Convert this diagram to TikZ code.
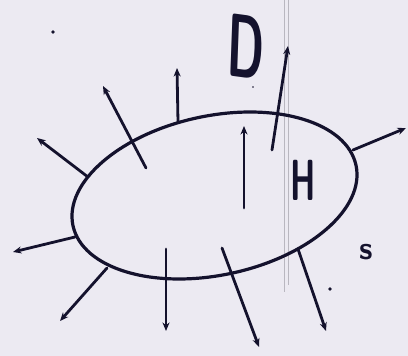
\documentclass[tikz,border=0pt]{standalone}
\usetikzlibrary{arrows.meta}
\definecolor{paper}{RGB}{236,234,242}
\definecolor{ink}{RGB}{20,18,45}
\definecolor{crease}{RGB}{185,183,192}
\begin{document}
\begin{tikzpicture}[x=1pt,y=-1pt,
  ray/.style={ink, line width=2.8pt, line cap=round, -{Stealth[length=8.5pt,width=7pt]}},
  rim/.style={ink, line width=3.2pt},
  hand/.style={ink, inner sep=0pt, font=\sffamily}]
\fill[paper] (0,0) rectangle (408,356);
\useasboundingbox (0,0) rectangle (408,356);
% scan crease
\draw[crease, line width=0.8pt] (284,0) -- (284,292);
\draw[crease, line width=0.6pt] (288,0) -- (288,285);
% body
\coordinate (c) at (214.5,195.5);
\draw[rim, rotate around={12:(c)}] (c) ellipse [x radius=144.7, y radius=79.6];
% tails and heads
\coordinate (t1) at (75,237);   \coordinate (h1) at (13,252);
\coordinate (t2) at (107,268);  \coordinate (h2) at (60,321);
\coordinate (t3) at (166,249);  \coordinate (h3) at (166,331);
\coordinate (t4) at (222,248);  \coordinate (h4) at (259,347);
\coordinate (t5) at (298,249);  \coordinate (h5) at (326,331);
\coordinate (t6) at (353,150);  \coordinate (h6) at (406,128);
\coordinate (t7) at (272,150);  \coordinate (h7) at (288,46);
\coordinate (t8) at (244,208);  \coordinate (h8) at (244,126);
\coordinate (t9) at (178,122);  \coordinate (h9) at (177,68);
\coordinate (t10) at (146,168); \coordinate (h10) at (103,86);
\coordinate (t11) at (88,177);  \coordinate (h11) at (37,138);
\foreach \i in {1,...,11} \draw[ray] (t\i) -- (h\i);
% labels
\node[hand, font=\sffamily\bfseries\fontsize{90}{90}\selectfont, xscale=0.52, rotate=-4] (D) at (246,47) {D};
\node[hand, font=\sffamily\bfseries\fontsize{58}{58}\selectfont, xscale=0.55] (H) at (303,180) {H};
\node[hand, font=\sffamily\bfseries\fontsize{32}{32}\selectfont] (s) at (366,252) {s};
% specks
\fill[ink] (53,32) circle (1.8);
\fill[ink] (330,289) circle (1.8);
\fill[ink] (253,87) circle (0.8);
\end{tikzpicture}
\end{document}
